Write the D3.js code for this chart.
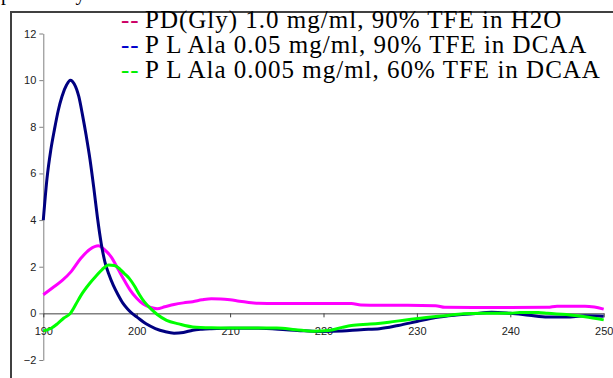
<!DOCTYPE html>
<html lang="en">
	<head>
		<meta charset="utf-8">
		<title>CD spectra</title>
		<script type="text/javascript" src="https://cdn.jsdelivr.net/npm/d3@7"></script>
		<style type="text/css">
			body { margin: 0; background: #fff; }
			.axis text {
				font-family: Arial, "Liberation Sans", sans-serif;
				font-size: 11px;
				fill: #222;
				}
			.legend text {
				font-family: "Times New Roman", "Liberation Serif", serif;
				font-size: 25px;
				letter-spacing: 1px;
				}
		</style>
	</head>
	<body>
		<script type="text/javascript">

			var w = 613;
			var h = 378;

			// wavelength (nm) and signal for each series
			var pdX = [190, 191, 192, 193, 194, 195, 195.9, 196.5, 197.3, 198, 198.7, 199.3, 200, 200.7, 201.5, 202.2, 203, 204, 205, 206, 207, 208, 209, 210, 211, 212, 213, 215, 218, 221, 223, 224, 226, 229, 232, 233, 236, 240, 244, 245, 248, 249, 250];
			var pdY = [0.8, 1.1, 1.4, 1.8, 2.35, 2.75, 2.9, 2.75, 2.4, 1.9, 1.4, 1.0, 0.65, 0.4, 0.25, 0.2, 0.28, 0.38, 0.45, 0.5, 0.58, 0.63, 0.62, 0.58, 0.52, 0.47, 0.43, 0.42, 0.42, 0.42, 0.42, 0.36, 0.35, 0.35, 0.33, 0.26, 0.25, 0.25, 0.26, 0.31, 0.31, 0.27, 0.18];

			var ala05X = [190, 190.4, 190.8, 191.2, 191.6, 192, 192.5, 192.9, 193.3, 193.8, 194.2, 194.6, 195, 195.4, 195.8, 196.2, 196.6, 197, 197.5, 198, 198.5, 199, 199.5, 200, 201, 202, 203, 204, 205, 206, 207, 208, 210, 213, 216, 218, 220, 222, 224, 226, 228, 230, 232, 234, 236, 238, 240, 242, 244, 246, 248, 250];
			var ala05Y = [4.0, 5.8, 7.0, 7.9, 8.7, 9.3, 9.8, 10.0, 9.85, 9.3, 8.5, 7.6, 6.6, 5.4, 4.1, 3.0, 2.2, 1.7, 1.2, 0.8, 0.45, 0.2, 0.0, -0.15, -0.45, -0.65, -0.78, -0.85, -0.82, -0.72, -0.68, -0.66, -0.64, -0.64, -0.7, -0.75, -0.78, -0.76, -0.7, -0.66, -0.52, -0.35, -0.18, -0.08, -0.02, 0.05, 0.0, -0.08, -0.16, -0.16, -0.1, -0.12];

			var ala005X = [190, 190.8, 191.5, 192.2, 192.9, 193.5, 194, 195, 195.7, 196.3, 197, 197.6, 198.2, 198.7, 199.2, 199.8, 200.3, 200.8, 201.5, 202.2, 203.2, 204.5, 206, 208, 210, 213, 215, 217, 219, 220.5, 222, 223, 225, 227, 229, 231, 233, 235, 237, 240, 241, 243, 244, 246, 248, 250];
			var ala005Y = [-0.75, -0.65, -0.45, -0.2, 0.0, 0.4, 0.75, 1.3, 1.62, 1.88, 2.07, 2.05, 1.9, 1.7, 1.5, 1.15, 0.8, 0.5, 0.2, -0.05, -0.3, -0.45, -0.58, -0.62, -0.63, -0.63, -0.63, -0.7, -0.77, -0.74, -0.6, -0.52, -0.46, -0.38, -0.27, -0.18, -0.1, -0.02, 0.0, 0.0, 0.04, 0.04, 0.0, -0.05, -0.15, -0.28];

			var legendLabels = ["PD(Gly) 1.0 mg/ml, 90% TFE in H2O",
								"P L Ala 0.05 mg/ml, 90% TFE in DCAA",
								"P L Ala 0.005 mg/ml, 60% TFE in DCAA"];
			var xTicks = [190, 200, 210, 220, 230, 240, 250];
			var yTicks = [-2, 0, 2, 4, 6, 8, 10, 12];

			var series = [
				{ x: pdX, y: pdY, color: "#ff00ff", key: "#cc0066" },
				{ x: ala05X, y: ala05Y, color: "#000080", key: "#0000cc" },
				{ x: ala005X, y: ala005Y, color: "#00ff00", key: "#00ee00" }
				];

			var svg = d3.select("body")
						.append("svg")
						.attr("width", w)
						.attr("height", h);

			// bit of text from the page above, cut off
			svg.append("text")
				.attr("x", 1)
				.attr("y", 0)
				.style("font-family", "'Times New Roman', 'Liberation Serif', serif")
				.style("font-size", "20px")
				.text("previously");

			// frame round the chart
			svg.append("rect")
				.attr("x", 11)
				.attr("y", 12)
				.attr("width", 700)
				.attr("height", 500)
				.attr("fill", "none")
				.attr("stroke", "#404040")
				.attr("stroke-width", 2);

			var xScale = d3.scaleLinear()
							.domain([190, 250])
							.range([43.3, 603.7]);

			var yScale = d3.scaleLinear()
							.domain([-2, 12])
							.range([360, 33.5]);

			var yAxis = d3.axisLeft(yScale)
							.tickValues(yTicks)
							.tickSize(4)
							.tickSizeOuter(0)
							.tickPadding(3);

			var gy = svg.append("g")
				.attr("class", "axis")
				.attr("transform", "translate(" + xScale(190) + ",0)")
				.call(yAxis);
			gy.selectAll("path, line").attr("stroke", "#808080");

			var xAxis = d3.axisBottom(xScale)
							.tickValues(xTicks)
							.tickSize(4)
							.tickSizeOuter(0)
							.tickPadding(10);

			var gx = svg.append("g")
				.attr("class", "axis")
				.attr("transform", "translate(0," + yScale(0) + ")")
				.call(xAxis);
			gx.selectAll("path, line").attr("stroke", "#404040");

			var line = d3.line()
						.x(function(d) { return xScale(d[0]); })
						.y(function(d) { return yScale(d[1]); })
						.curve(d3.curveMonotoneX);

			series.forEach(function(s) {
				var pts = s.x.map(function(v, i) { return [v, s.y[i]]; });
				svg.append("path")
					.datum(pts)
					.attr("fill", "none")
					.attr("stroke", s.color)
					.attr("stroke-width", 3)
					.attr("stroke-linejoin", "round")
					.attr("d", line);
				});

			// legend, top right
			var legend = svg.append("g").attr("class", "legend");
			legendLabels.forEach(function(label, i) {
				var row = legend.append("text")
					.attr("x", 121)
					.attr("y", 28 + i * 25);
				row.append("tspan")
					.attr("fill", series[i].key)
					.text("--");
				row.append("tspan")
					.attr("x", 145)
					.attr("fill", "#000")
					.text(label);
				});

		</script>
	</body>
</html>
